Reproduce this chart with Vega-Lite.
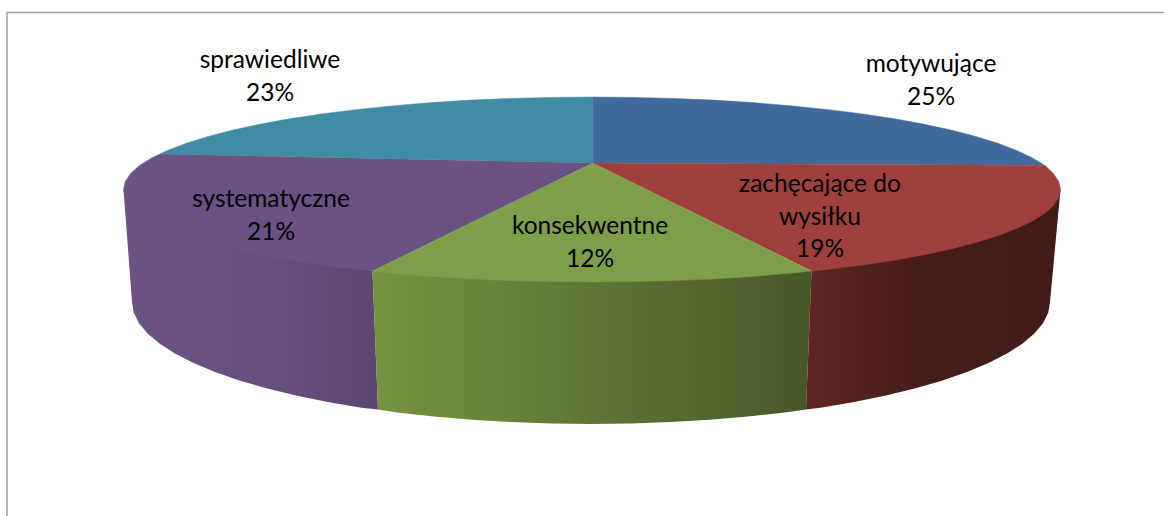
{"$schema":"https://vega.github.io/schema/vega-lite/v6.json","width":1164,"height":516,"padding":0,"autosize":{"type":"none"},"background":"#ffffff","view":{"stroke":null},
"datasets":{
"slices":[
{"name":"motywujące","value":25,"label":"motywujące\n25%","x":931,"y":65},
{"name":"zachęcające do wysiłku","value":19,"label":"zachęcające do\nwysiłku\n19%","x":820,"y":185},
{"name":"konsekwentne","value":12,"label":"konsekwentne\n12%","x":590,"y":227},
{"name":"systematyczne","value":21,"label":"systematyczne\n21%","x":271,"y":200},
{"name":"sprawiedliwe","value":23,"label":"sprawiedliwe\n23%","x":270,"y":61}
],
"outline":[
{"part":"frame","i":0,"x":7,"y":516},{"part":"frame","i":1,"x":7,"y":12.5},{"part":"frame","i":2,"x":1164,"y":12.5},

{"part":"wall-purple","i":0,"x":372.5,"y":271},{"part":"wall-purple","i":1,"x":123.5,"y":189.5},{"part":"wall-purple","i":2,"x":132,"y":302},{"part":"wall-purple","i":3,"x":133.7,"y":312.6},{"part":"wall-purple","i":4,"x":139,"y":323.2},{"part":"wall-purple","i":5,"x":147.6,"y":333.6},{"part":"wall-purple","i":6,"x":159.7,"y":343.7},{"part":"wall-purple","i":7,"x":175,"y":353.6},{"part":"wall-purple","i":8,"x":193.5,"y":363},{"part":"wall-purple","i":9,"x":215,"y":372},{"part":"wall-purple","i":10,"x":239.4,"y":380.4},{"part":"wall-purple","i":11,"x":266.4,"y":388.3},{"part":"wall-purple","i":12,"x":296,"y":395.5},{"part":"wall-purple","i":13,"x":327.7,"y":401.9},{"part":"wall-purple","i":14,"x":361.5,"y":407.7},{"part":"wall-purple","i":15,"x":378,"y":409.5},

{"part":"wall-green","i":0,"x":372.5,"y":271},{"part":"wall-green","i":1,"x":811.5,"y":271},{"part":"wall-green","i":2,"x":806,"y":409.5},{"part":"wall-green","i":3,"x":785,"y":412.6},{"part":"wall-green","i":4,"x":748,"y":416.6},{"part":"wall-green","i":5,"x":709.8,"y":419.8},{"part":"wall-green","i":6,"x":670.7,"y":422.1},{"part":"wall-green","i":7,"x":631,"y":423.5},{"part":"wall-green","i":8,"x":591,"y":424},{"part":"wall-green","i":9,"x":551,"y":423.5},{"part":"wall-green","i":10,"x":511.3,"y":422.1},{"part":"wall-green","i":11,"x":472.2,"y":419.8},{"part":"wall-green","i":12,"x":434,"y":416.6},{"part":"wall-green","i":13,"x":397,"y":412.6},{"part":"wall-green","i":14,"x":378,"y":409.5},

{"part":"wall-red","i":0,"x":811.5,"y":271},{"part":"wall-red","i":1,"x":1060.5,"y":189.5},{"part":"wall-red","i":2,"x":1050,"y":302},{"part":"wall-red","i":3,"x":1048.3,"y":312.6},{"part":"wall-red","i":4,"x":1043,"y":323.2},{"part":"wall-red","i":5,"x":1034.4,"y":333.6},{"part":"wall-red","i":6,"x":1022.3,"y":343.7},{"part":"wall-red","i":7,"x":1007,"y":353.6},{"part":"wall-red","i":8,"x":988.5,"y":363},{"part":"wall-red","i":9,"x":967,"y":372},{"part":"wall-red","i":10,"x":942.6,"y":380.4},{"part":"wall-red","i":11,"x":915.6,"y":388.3},{"part":"wall-red","i":12,"x":886,"y":395.5},{"part":"wall-red","i":13,"x":854.3,"y":401.9},{"part":"wall-red","i":14,"x":820.5,"y":407.7},{"part":"wall-red","i":15,"x":806,"y":409.5},

{"part":"top-teal","i":0,"x":592.5,"y":163},{"part":"top-teal","i":1,"x":160,"y":154},{"part":"top-teal","i":2,"x":167.4,"y":150.4},{"part":"top-teal","i":3,"x":186.3,"y":143.2},{"part":"top-teal","i":4,"x":208.3,"y":136.4},{"part":"top-teal","i":5,"x":233.1,"y":130},{"part":"top-teal","i":6,"x":260.7,"y":124.1},{"part":"top-teal","i":7,"x":290.8,"y":118.6},{"part":"top-teal","i":8,"x":323.2,"y":113.7},{"part":"top-teal","i":9,"x":357.8,"y":109.4},{"part":"top-teal","i":10,"x":394,"y":105.7},{"part":"top-teal","i":11,"x":431.8,"y":102.6},{"part":"top-teal","i":12,"x":470.7,"y":100.1},{"part":"top-teal","i":13,"x":510.6,"y":98.4},{"part":"top-teal","i":14,"x":551.2,"y":97.4},{"part":"top-teal","i":15,"x":592.5,"y":97},

{"part":"top-blue","i":0,"x":592.5,"y":163},{"part":"top-blue","i":1,"x":592.5,"y":97},{"part":"top-blue","i":2,"x":632.8,"y":97.4},{"part":"top-blue","i":3,"x":673.4,"y":98.4},{"part":"top-blue","i":4,"x":713.3,"y":100.1},{"part":"top-blue","i":5,"x":752.2,"y":102.6},{"part":"top-blue","i":6,"x":790,"y":105.7},{"part":"top-blue","i":7,"x":826.3,"y":109.4},{"part":"top-blue","i":8,"x":860.8,"y":113.7},{"part":"top-blue","i":9,"x":893.2,"y":118.6},{"part":"top-blue","i":10,"x":923.3,"y":124.1},{"part":"top-blue","i":11,"x":950.9,"y":130},{"part":"top-blue","i":12,"x":975.7,"y":136.4},{"part":"top-blue","i":13,"x":997.7,"y":143.2},{"part":"top-blue","i":14,"x":1016.6,"y":150.4},{"part":"top-blue","i":15,"x":1032.4,"y":157.9},{"part":"top-blue","i":16,"x":1045,"y":165.5},

{"part":"top-red","i":0,"x":592.5,"y":163},{"part":"top-red","i":1,"x":1045,"y":165.5},{"part":"top-red","i":2,"x":1053.4,"y":173.4},{"part":"top-red","i":3,"x":1058.7,"y":181.4},{"part":"top-red","i":4,"x":1060.5,"y":189.5},{"part":"top-red","i":5,"x":1058.7,"y":197.6},{"part":"top-red","i":6,"x":1053.4,"y":205.6},{"part":"top-red","i":7,"x":1044.5,"y":213.5},{"part":"top-red","i":8,"x":1032.4,"y":221.1},{"part":"top-red","i":9,"x":1016.6,"y":228.6},{"part":"top-red","i":10,"x":997.7,"y":235.8},{"part":"top-red","i":11,"x":975.7,"y":242.6},{"part":"top-red","i":12,"x":950.9,"y":249},{"part":"top-red","i":13,"x":923.3,"y":254.9},{"part":"top-red","i":14,"x":893.2,"y":260.4},{"part":"top-red","i":15,"x":860.8,"y":265.3},{"part":"top-red","i":16,"x":826.3,"y":269.6},{"part":"top-red","i":17,"x":811.5,"y":271},

{"part":"top-purple","i":0,"x":592.5,"y":163},{"part":"top-purple","i":1,"x":372.5,"y":271},{"part":"top-purple","i":2,"x":357.8,"y":269.6},{"part":"top-purple","i":3,"x":323.2,"y":265.3},{"part":"top-purple","i":4,"x":290.8,"y":260.4},{"part":"top-purple","i":5,"x":260.7,"y":254.9},{"part":"top-purple","i":6,"x":233.1,"y":249},{"part":"top-purple","i":7,"x":208.3,"y":242.6},{"part":"top-purple","i":8,"x":186.3,"y":235.8},{"part":"top-purple","i":9,"x":167.4,"y":228.6},{"part":"top-purple","i":10,"x":151.6,"y":221.1},{"part":"top-purple","i":11,"x":139.5,"y":213.5},{"part":"top-purple","i":12,"x":130.6,"y":205.6},{"part":"top-purple","i":13,"x":125.3,"y":197.6},{"part":"top-purple","i":14,"x":123.5,"y":189.5},{"part":"top-purple","i":15,"x":125.3,"y":181.4},{"part":"top-purple","i":16,"x":130.6,"y":173.4},{"part":"top-purple","i":17,"x":139.5,"y":165.5},{"part":"top-purple","i":18,"x":151.6,"y":157.9},{"part":"top-purple","i":19,"x":160,"y":154},

{"part":"top-green","i":0,"x":592.5,"y":163},{"part":"top-green","i":1,"x":811.5,"y":271},{"part":"top-green","i":2,"x":790,"y":273.3},{"part":"top-green","i":3,"x":752.2,"y":276.4},{"part":"top-green","i":4,"x":713.3,"y":278.9},{"part":"top-green","i":5,"x":673.4,"y":280.6},{"part":"top-green","i":6,"x":632.8,"y":281.6},{"part":"top-green","i":7,"x":592,"y":282},{"part":"top-green","i":8,"x":551.2,"y":281.6},{"part":"top-green","i":9,"x":510.6,"y":280.6},{"part":"top-green","i":10,"x":470.7,"y":278.9},{"part":"top-green","i":11,"x":431.8,"y":276.4},{"part":"top-green","i":12,"x":394,"y":273.3},{"part":"top-green","i":13,"x":372.5,"y":271}
]},
"layer":[
{"data":{"name":"outline"},
"encoding":{"x":{"field":"x","type":"quantitative","axis":null,"scale":{"domain":[0,1164],"nice":false,"zero":false}},"y":{"field":"y","type":"quantitative","axis":null,"scale":{"domain":[0,516],"reverse":true,"nice":false,"zero":false}},"order":{"field":"i","type":"quantitative"}},
"layer":[
{"transform":[{"filter":"datum.part==='frame'"}],"mark":{"type":"line","stroke":"#a3a3a3","strokeWidth":1.6}},
{"transform":[{"filter":"datum.part==='wall-purple'"}],"mark":{"type":"line","strokeWidth":0,"fill":{"gradient":"linear","x1":0,"x2":1,"y1":0,"y2":0,"stops":[{"offset":0,"color":"#6b5386"},{"offset":0.6,"color":"#674e80"},{"offset":1,"color":"#5e4671"}]}}},
{"transform":[{"filter":"datum.part==='wall-green'"}],"mark":{"type":"line","strokeWidth":0,"fill":{"gradient":"linear","x1":0,"x2":1,"y1":0,"y2":0,"stops":[{"offset":0,"color":"#76943f"},{"offset":0.5,"color":"#607535"},{"offset":1,"color":"#475828"}]}}},
{"transform":[{"filter":"datum.part==='wall-red'"}],"mark":{"type":"line","strokeWidth":0,"fill":{"gradient":"linear","x1":0,"x2":1,"y1":0,"y2":0,"stops":[{"offset":0,"color":"#5e2624"},{"offset":0.45,"color":"#451c19"},{"offset":1,"color":"#421b18"}]}}},
{"transform":[{"filter":"datum.part==='top-teal'"}],"mark":{"type":"line","fill":"#3f8ca4","stroke":"#3f8ca4","strokeWidth":0.5}},
{"transform":[{"filter":"datum.part==='top-blue'"}],"mark":{"type":"line","fill":"#3f6a9b","stroke":"#3f6a9b","strokeWidth":0.5}},
{"transform":[{"filter":"datum.part==='top-purple'"}],"mark":{"type":"line","fill":"#6a5284","stroke":"#6a5284","strokeWidth":0.5}},
{"transform":[{"filter":"datum.part==='top-red'"}],"mark":{"type":"line","fill":"#9e403e","stroke":"#9e403e","strokeWidth":0.5}},
{"transform":[{"filter":"datum.part==='top-green'"}],"mark":{"type":"line","fill":"#7f9e4a","stroke":"#7f9e4a","strokeWidth":0.5}}
]},
{"data":{"name":"slices"},"mark":{"type":"text","font":"Lato","fontSize":24.5,"color":"#000000","align":"center","baseline":"middle","lineBreak":"\n","lineHeight":32.5},
"encoding":{"x":{"field":"x","type":"quantitative"},"y":{"field":"y","type":"quantitative"},"text":{"field":"label","type":"nominal"}}}
]}
